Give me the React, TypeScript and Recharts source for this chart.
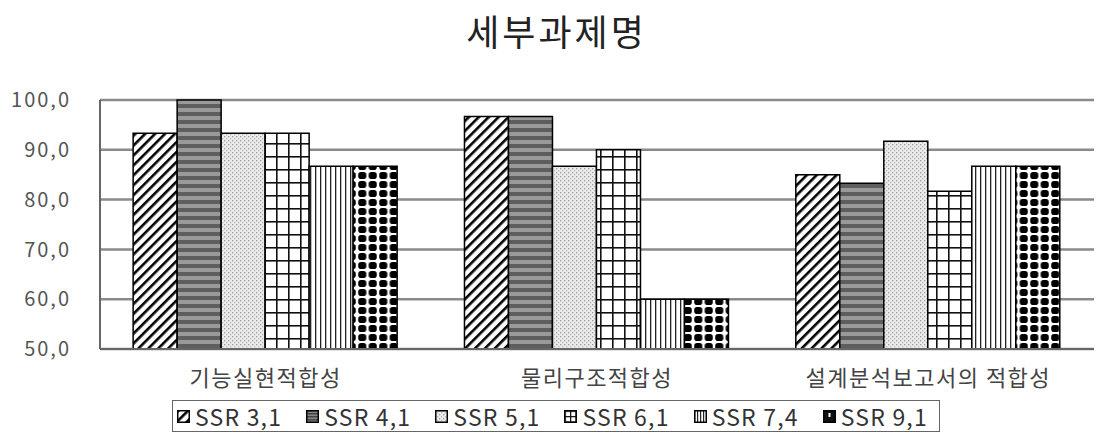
import { Bar, BarChart, CartesianGrid, Legend, XAxis, YAxis } from "recharts"

const categories = ["기능실현적합성", "물리구조적합성", "설계분석보고서의 적합성"]
const seriesNames = ["SSR 3,1", "SSR 4,1", "SSR 5,1", "SSR 6,1", "SSR 7,4", "SSR 9,1"]
const ssr31 = [93.3, 96.7, 85.0]
const ssr41 = [100.0, 96.7, 83.3]
const ssr51 = [93.3, 86.7, 91.7]
const ssr61 = [93.3, 90.0, 81.7]
const ssr74 = [86.7, 60.0, 86.7]
const ssr91 = [86.7, 60.0, 86.7]
const yTicks = [50, 60, 70, 80, 90, 100]

const seriesValues = [ssr31, ssr41, ssr51, ssr61, ssr74, ssr91]
const keys = ["s31", "s41", "s51", "s61", "s74", "s91"]
const patternIds = ["pDiag", "pHstripe", "pDots", "pGrid", "pVstripe", "pBlackDots"]
const legendPatternIds = ["pDiag", "pHstripeS", "pDots", "pGridS", "pVstripeS", "pBlackDotsS"]

const data = categories.map((name, i) => {
  const row: Record<string, string | number> = { name }
  keys.forEach((k, j) => {
    row[k] = seriesValues[j][i]
  })
  return row
})

const fontFamily = '"Noto Sans CJK KR", "Noto Sans", sans-serif'
const fmt = (v: number) => v.toFixed(1).replace(".", ",")

function Patterns() {
  return (
    <defs>
      <pattern id="pDiag" width="7" height="7" patternUnits="userSpaceOnUse" patternTransform="rotate(45)">
        <rect width="7" height="7" fill="#fff" />
        <rect x="0" y="0" width="2.6" height="7" fill="#000" />
      </pattern>
      <pattern id="pHstripe" width="8" height="8" patternUnits="userSpaceOnUse">
        <rect width="8" height="8" fill="#9a9a9a" />
        <rect x="0" y="0" width="8" height="4" fill="#5e5e5e" />
      </pattern>
      <pattern id="pDots" width="4" height="4" patternUnits="userSpaceOnUse">
        <rect width="4" height="4" fill="#ececec" />
        <rect x="0" y="0" width="1.3" height="1.3" fill="#9a9a9a" />
        <rect x="2" y="2" width="1.3" height="1.3" fill="#b5b5b5" />
      </pattern>
      <pattern id="pGrid" width="12" height="13" patternUnits="userSpaceOnUse">
        <rect width="12" height="13" fill="#fff" />
        <rect x="0" y="0" width="1.6" height="13" fill="#111" />
        <rect x="0" y="0" width="12" height="1.6" fill="#111" />
      </pattern>
      <pattern id="pVstripe" width="5" height="5" patternUnits="userSpaceOnUse">
        <rect width="5" height="5" fill="#fff" />
        <rect x="0" y="0" width="1.3" height="5" fill="#222" />
      </pattern>
      <pattern id="pBlackDots" width="10.5" height="9" patternUnits="userSpaceOnUse">
        <rect width="10.5" height="9" fill="#fff" />
        <rect x="1.2" y="1" width="8.1" height="7" rx="2.8" fill="#000" />
      </pattern>
      <pattern id="pHstripeS" width="3" height="3" patternUnits="userSpaceOnUse">
        <rect width="3" height="3" fill="#888" />
        <rect x="0" y="0" width="3" height="1.5" fill="#444" />
      </pattern>
      <pattern id="pGridS" width="5.5" height="5.5" patternUnits="userSpaceOnUse" x="0.5" y="0.5">
        <rect width="5.5" height="5.5" fill="#fff" />
        <rect x="0" y="0" width="1.2" height="5.5" fill="#111" />
        <rect x="0" y="0" width="5.5" height="1.2" fill="#111" />
      </pattern>
      <pattern id="pVstripeS" width="3" height="3" patternUnits="userSpaceOnUse">
        <rect width="3" height="3" fill="#fff" />
        <rect x="0" y="0" width="1.2" height="3" fill="#222" />
      </pattern>
      <pattern id="pBlackDotsS" width="13" height="13" patternUnits="userSpaceOnUse">
        <rect width="13" height="13" fill="#111" />
        <rect x="5.5" y="3" width="2" height="4" fill="#fff" />
      </pattern>
    </defs>
  )
}

function LegendBox() {
  return (
    <div
      style={{
        display: "flex",
        alignItems: "center",
        height: 32,
        boxSizing: "border-box",
        border: "1.5px solid #666",
        paddingLeft: 4,
        fontFamily,
        fontSize: 23,
        color: "#333",
        gap: 24,
        lineHeight: 1,
      }}
    >
      {seriesNames.map((n, i) => (
        <div key={n} style={{ display: "flex", alignItems: "center", gap: 5 }}>
          <svg width={13} height={13}>
            <rect x={0.75} y={0.75} width={11.5} height={11.5} fill={`url(#${legendPatternIds[i]})`} stroke="#000" strokeWidth={1.5} />
          </svg>
          <span style={{ letterSpacing: 1.2 }}>{n}</span>
        </div>
      ))}
    </div>
  )
}

export default function App() {
  return (
    <div style={{ position: "relative", width: 1096, height: 434, background: "#fff" }}>
      <style>{"body{margin:0;background:#fff}"}</style>
      <div
        style={{
          position: "absolute",
          top: 4,
          left: 0,
          width: 1113,
          textAlign: "center",
          fontFamily,
          fontSize: 36,
          color: "#222",
          letterSpacing: 3,
        }}
      >
        세부과제명
      </div>
      <BarChart
        width={1096}
        height={434}
        data={data}
        margin={{ top: 100, right: 2, bottom: 2, left: 0 }}
        barCategoryGap="10%"
        barGap={0}
      >
        <Patterns />
        <CartesianGrid horizontal vertical={false} stroke="#8a8a8a" strokeWidth={2.5} />
        <XAxis
          dataKey="name"
          height={51}
          axisLine={{ stroke: "#666", strokeWidth: 2 }}
          tickLine={false}
          tickMargin={15}
          tick={{ fill: "#444", fontSize: 22, fontFamily, letterSpacing: 1.5 }}
        />
        <YAxis
          domain={[50, 100]}
          ticks={yTicks}
          width={100}
          interval={0}
          axisLine={{ stroke: "#666", strokeWidth: 2 }}
          tickLine={false}
          tickMargin={23}
          tickFormatter={fmt}
          tick={{ fill: "#555", fontSize: 20, fontFamily, letterSpacing: 2 }}
        />
        <YAxis
          yAxisId="r"
          orientation="right"
          width={0}
          tick={false}
          axisLine={{ stroke: "#666", strokeWidth: 2 }}
        />
        <Legend
          verticalAlign="bottom"
          content={() => <LegendBox />}
          wrapperStyle={{ left: 172, width: 768, bottom: 2 }}
        />
        {keys.map((k, i) => (
          <Bar
            key={k}
            dataKey={k}
            name={seriesNames[i]}
            fill={`url(#${patternIds[i]})`}
            stroke="#000"
            strokeWidth={1.5}
            isAnimationActive={false}
          />
        ))}
      </BarChart>
    </div>
  )
}
